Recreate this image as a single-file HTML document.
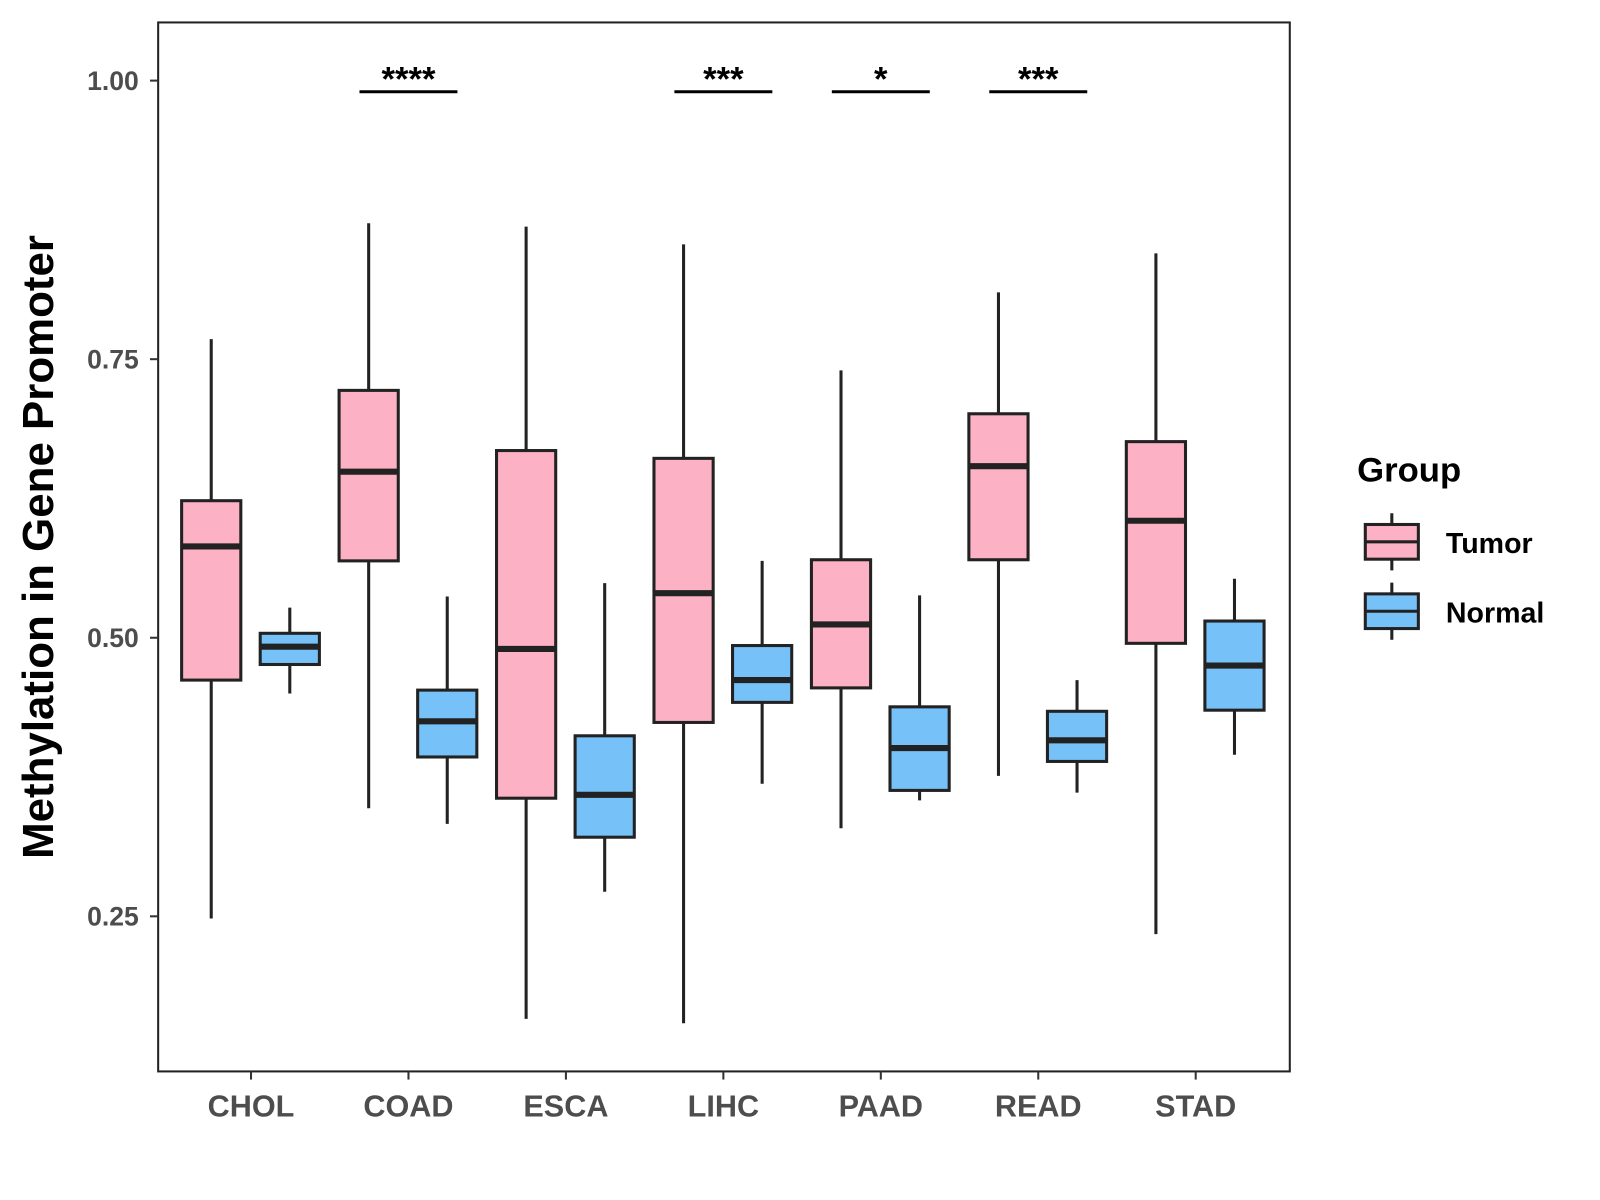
<!DOCTYPE html>
<html><head><meta charset="utf-8"><style>
html,body{margin:0;padding:0;background:#fff;}
svg{display:block;font-family:"Liberation Sans",Arial,sans-serif;}
</style></head><body>
<svg id="chart" width="1600" height="1200" viewBox="0 0 1600 1200">
<g transform="scale(1.0204)">
<rect x="155" y="22" width="1109" height="1028" fill="#fff" stroke="#222" stroke-width="2"/>
<g id="yaxis"></g>
<g id="xaxis"></g>
<g id="boxes"></g>
<g id="sig"></g>
<text x="52" y="536" transform="rotate(-90 52 536)" text-anchor="middle" font-size="43" font-weight="bold" fill="#000">Methylation in Gene Promoter</text>
<g>
<text x="1330" y="472" font-size="34" font-weight="bold" fill="#000">Group</text>
<g>
<line x1="1364" y1="503" x2="1364" y2="559" stroke="#222" stroke-width="3"/>
<rect x="1338" y="514" width="52" height="34" fill="#FDB1C4" stroke="#222" stroke-width="3"/>
<line x1="1338" y1="531" x2="1390" y2="531" stroke="#222" stroke-width="3"/>
<text x="1417" y="542" font-size="28" font-weight="bold" fill="#000">Tumor</text>
</g>
<g>
<line x1="1364" y1="571" x2="1364" y2="627" stroke="#222" stroke-width="3"/>
<rect x="1338" y="582" width="52" height="34" fill="#76C1F8" stroke="#222" stroke-width="3"/>
<line x1="1338" y1="599" x2="1390" y2="599" stroke="#222" stroke-width="3"/>
<text x="1417" y="610" font-size="28" font-weight="bold" fill="#000">Normal</text>
</g>
</g>
</g>
</svg>
<script>
const categories=["CHOL","COAD","ESCA","LIHC","PAAD","READ","STAD"];
// [low, q1, median, q3, high]
const tumorStats=[[0.248,0.462,0.582,0.623,0.768],[0.347,0.569,0.649,0.722,0.872],[0.158,0.356,0.490,0.668,0.869],[0.154,0.424,0.540,0.661,0.853],[0.329,0.455,0.512,0.570,0.740],[0.376,0.570,0.654,0.701,0.810],[0.234,0.495,0.605,0.676,0.845]];
const normalStats=[[0.450,0.476,0.492,0.504,0.527],[0.333,0.393,0.425,0.453,0.537],[0.272,0.321,0.359,0.412,0.549],[0.369,0.442,0.462,0.493,0.569],[0.354,0.363,0.401,0.438,0.538],[0.361,0.389,0.408,0.434,0.462],[0.395,0.435,0.475,0.515,0.553]];
const yTicks=[0.25,0.50,0.75,1.00];
const yTickLabels=["0.25","0.50","0.75","1.00"];
const sigCats=["COAD","LIHC","PAAD","READ"];
const sigLabels=["****","***","*","***"];
const sigLevel=0.99;

const NS="http://www.w3.org/2000/svg";
const y=v=>79+(1-v)*1092;
const x=i=>246+i*154.3;
function mk(tag,attrs,parent){const e=document.createElementNS(NS,tag);for(const k in attrs)e.setAttribute(k,attrs[k]);parent.appendChild(e);return e;}
const ya=document.getElementById('yaxis'),xa=document.getElementById('xaxis'),bx=document.getElementById('boxes'),sg=document.getElementById('sig');
yTicks.forEach((t,i)=>{
 const l=mk('line',{x1:147,x2:155,y1:y(t),y2:y(t),stroke:'#333','stroke-width':2},ya);
 
 
 const tx=mk('text',{x:136,y:y(t)+9,'text-anchor':'end','font-size':26,'font-weight':'bold',fill:'#4d4d4d'},ya);
 tx.textContent=yTickLabels[i];
 
 
});
categories.forEach((c,i)=>{
 const l=mk('line',{x1:x(i),x2:x(i),y1:1050,y2:1058,stroke:'#333','stroke-width':2},xa);
 
 
 const tx=mk('text',{x:x(i),y:1094,'text-anchor':'middle','font-size':30,'font-weight':'bold',fill:'#4d4d4d'},xa);
 tx.textContent=c;
 
 
});
function box(cx,s,fill,name){
 const g=mk('g',{},bx);
 
 
 const w=58;
 mk('line',{x1:cx,x2:cx,y1:y(s[4]),y2:y(s[0]),stroke:'#222','stroke-width':3},g);
 mk('rect',{x:cx-w/2,y:y(s[3]),width:w,height:y(s[1])-y(s[3]),fill:fill,stroke:'#222','stroke-width':3},g);
 mk('line',{x1:cx-w/2,x2:cx+w/2,y1:y(s[2]),y2:y(s[2]),stroke:'#222','stroke-width':6},g);
}
categories.forEach((c,i)=>{
 box(x(i)-39,tumorStats[i],'#FDB1C4','box-tumor-'+c.toLowerCase());
 box(x(i)+38,normalStats[i],'#76C1F8','box-normal-'+c.toLowerCase());
});
sigCats.forEach((c,k)=>{
 const i=categories.indexOf(c);
 const l=mk('line',{x1:x(i)-48,x2:x(i)+48,y1:y(sigLevel),y2:y(sigLevel),stroke:'#000','stroke-width':3},sg);
 
 
 const t=mk('text',{x:x(i),y:y(sigLevel)-1,'text-anchor':'middle','font-size':34,'font-weight':'bold',fill:'#000'},sg);
 t.textContent=sigLabels[k];
 
 
});
</script>
</body></html>
